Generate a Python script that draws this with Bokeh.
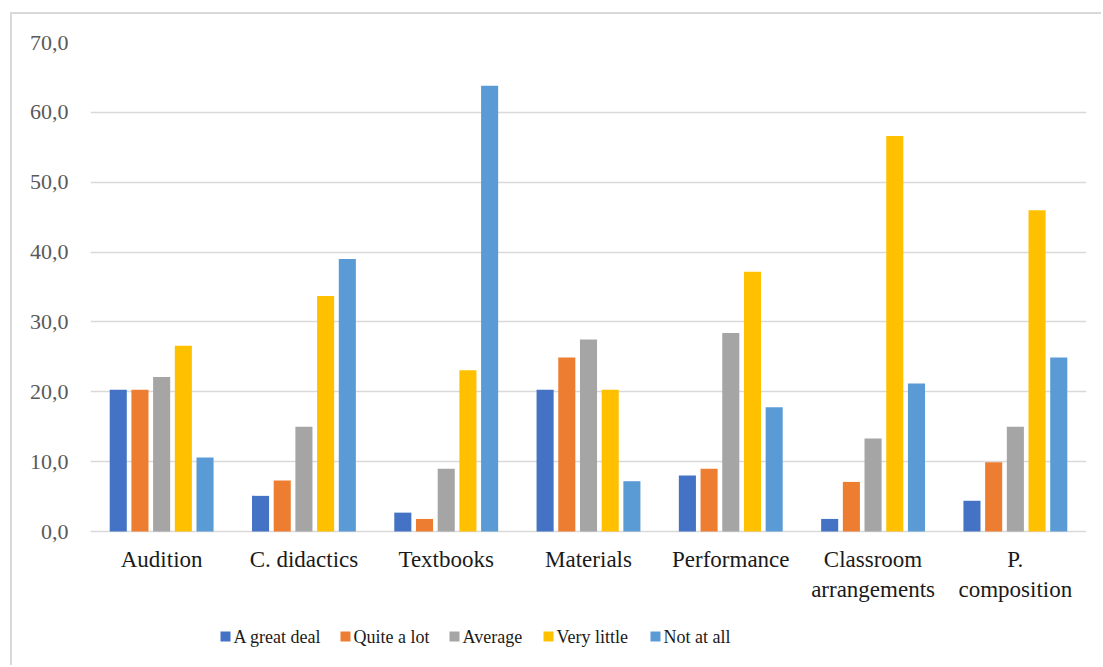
from bokeh.plotting import figure
from bokeh.models import FactorRange, ColumnDataSource, FixedTicker
from bokeh.core.properties import value
from bokeh.transform import dodge
from bokeh.embed import file_html
from bokeh.resources import INLINE

# Survey categories and answer levels
categories = ["Audition", "C. didactics", "Textbooks", "Materials",
              "Performance", "Classroom arrangements", "P. composition"]
category_labels = ["Audition", "C. didactics", "Textbooks", "Materials",
                   "Performance", "Classroom\narrangements", "P.\ncomposition"]
series_names = ["A great deal", "Quite a lot", "Average", "Very little", "Not at all"]

# Percentage of answers per category
great_deal = [20.3, 5.1, 2.7, 20.3, 8.0, 1.8, 4.4]
quite_a_lot = [20.3, 7.3, 1.8, 24.9, 9.0, 7.1, 9.9]
average = [22.1, 15.0, 9.0, 27.5, 28.4, 13.3, 15.0]
very_little = [26.6, 33.7, 23.1, 20.3, 37.2, 56.6, 46.0]
not_at_all = [10.6, 39.0, 63.8, 7.2, 17.8, 21.2, 24.9]

y_ticks = [0, 10, 20, 30, 40, 50, 60, 70]
y_tick_labels = ["0,0", "10,0", "20,0", "30,0", "40,0", "50,0", "60,0", "70,0"]

colors = ["#4472C4", "#ED7D31", "#A5A5A5", "#FFC000", "#5B9BD5"]

source = ColumnDataSource(dict(
    cat=categories,
    s0=great_deal, s1=quite_a_lot, s2=average, s3=very_little, s4=not_at_all,
))

SERIF = "Liberation Serif"
TEXT_DARK = "#1a1a1a"

# The frame reaches down to the canvas bottom so that category names and the
# legend can be drawn inside it; the value axis still runs from 0 to 70.
fig_w, fig_h = 1091, 653
left_px, right_px = 78, 17
top_px, zero_px = 28, 517
frame_w = fig_w - left_px - right_px
px_per_unit = (zero_px - top_px) / 70.0
y_min = -(fig_h - zero_px) / px_per_unit

p = figure(
    x_range=FactorRange(*categories, range_padding=0),
    y_range=(y_min, 70),
    width=fig_w, height=fig_h,
    output_backend="svg", toolbar_location=None,
    min_border_left=left_px, min_border_right=right_px,
    min_border_top=top_px, min_border_bottom=0,
)
p.styles = {
    "margin-left": "10px", "margin-top": "12px",
    "border-left": "2px solid #d9d9d9", "border-top": "2px solid #d9d9d9",
}
p.outline_line_color = None
p.background_fill_color = "white"
p.border_fill_color = "white"

pitch = 0.1525
bar_w = 0.12
for i, col in enumerate(colors):
    p.vbar(x=dodge("cat", (i - 2) * pitch, range=p.x_range), top=f"s{i}",
           width=bar_w, bottom=0, source=source,
           fill_color=col, line_color=None)

# Grid
p.xgrid.grid_line_color = None
p.ygrid.ticker = FixedTicker(ticks=y_ticks)
p.ygrid.grid_line_color = "#d9d9d9"
p.ygrid.grid_line_width = 1.5

# Y axis
p.yaxis.ticker = FixedTicker(ticks=y_ticks)
p.yaxis.major_label_overrides = {t: lab for t, lab in zip(y_ticks, y_tick_labels)}
p.yaxis.axis_line_color = None
p.yaxis.major_tick_line_color = None
p.yaxis.minor_tick_line_color = None
p.yaxis.major_label_standoff = 16
p.yaxis.major_label_text_font = SERIF
p.yaxis.major_label_text_font_size = "22px"
p.yaxis.major_label_text_color = "#595959"

p.xaxis.visible = False

# Category names under the bars
label_src = ColumnDataSource(dict(cat=categories, lab=category_labels,
                                  y=[0] * len(categories)))
p.text(x="cat", y="y", text="lab", source=label_src,
       y_offset=15, text_align="center", text_baseline="top",
       text_font=value(SERIF), text_font_size="23px",
       text_color=TEXT_DARK, text_line_height=1.2)

# Legend row: colour square followed by its label, placed in pixels from the
# frame's left edge and converted to the plot's coordinates
n_cat = len(categories)
legend_left_px = [130, 250, 359, 453, 560]
legend_y_px = 31  # above the frame bottom


def px_to_x(px):
    return px * n_cat / frame_w


legend_y = y_min + legend_y_px / px_per_unit
key_src = ColumnDataSource(dict(
    x=[px_to_x(x + 5) for x in legend_left_px],
    tx=[px_to_x(x + 13) for x in legend_left_px],
    y=[legend_y] * len(series_names),
    name=series_names, color=colors,
))
p.scatter(x="x", y="y", marker="square", size=10, fill_color="color",
          line_color=None, source=key_src)
p.text(x="tx", y="y", text="name", source=key_src,
       text_align="left", text_baseline="middle",
       text_font=value(SERIF), text_font_size="18px", text_color=TEXT_DARK)

open("out.html", "w").write(file_html(p, INLINE))
